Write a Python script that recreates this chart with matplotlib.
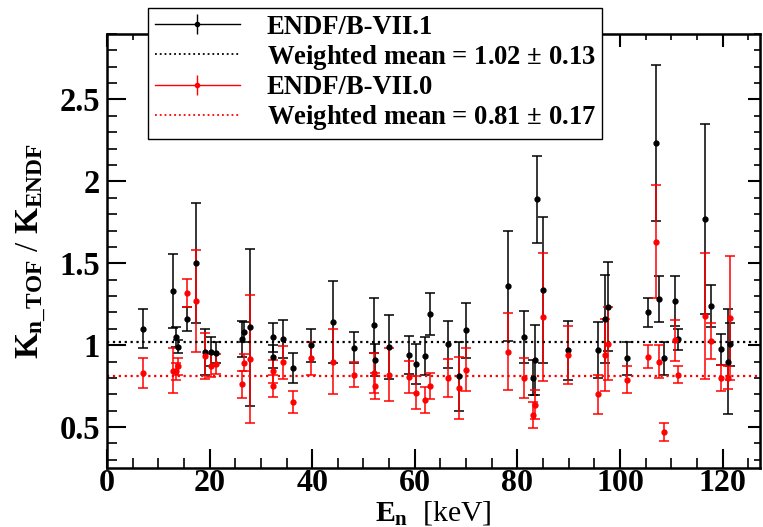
import numpy as np
import matplotlib
matplotlib.use('Agg')
import matplotlib.pyplot as plt
from matplotlib.lines import Line2D
from matplotlib.ticker import MultipleLocator

# ENDF/B-VII.1 points
e71 = [7.1, 12.9, 13.5, 13.8, 15.6, 17.4, 19.2, 20.2, 21.3, 26.3, 26.8, 27.8,
       32.4, 32.4, 34.4, 36.3, 39.7, 44.1, 48.1, 52.1, 52.3, 54.9, 58.8, 60.2,
       61.9, 63.0, 66.5, 68.7, 70.0, 78.2, 81.3, 83.0, 83.5, 83.9, 85.0, 89.9,
       95.7, 97.0, 97.6, 101.4, 105.4, 107.1, 107.7, 108.5, 110.7, 111.4,
       116.5, 117.7, 119.7, 121.0, 121.4]
k71 = [1.10, 1.33, 1.05, 0.99, 1.16, 1.50, 0.96, 0.96, 0.955, 1.04, 1.08, 1.11,
       1.047, 0.93, 1.037, 0.86, 1.00, 1.14, 0.985, 1.12, 0.91, 0.99, 0.94, 0.885,
       0.935, 1.19, 1.005, 0.81, 1.09, 1.36, 1.05, 0.80, 0.91, 1.89, 1.335, 0.97,
       0.97, 1.16, 1.235, 0.92, 1.20, 2.235, 1.28, 0.92, 1.27, 1.035,
       1.77, 1.24, 0.975, 0.90, 1.005]
s71 = [0.12, 0.225, 0.06, 0.04, 0.075, 0.365, 0.14, 0.09, 0.065, 0.11, 0.06, 0.48,
       0.09, 0.07, 0.115, 0.09, 0.10, 0.25, 0.095, 0.17, 0.10, 0.195, 0.115, 0.125,
       0.115, 0.13, 0.145, 0.21, 0.17, 0.335, 0.16, 0.107, 0.215, 0.265, 0.445, 0.18,
       0.17, 0.27, 0.27, 0.10, 0.09, 0.475, 0.14, 0.10, 0.155, 0.065,
       0.58, 0.13, 0.095, 0.32, 0.13]

# ENDF/B-VII.0 points
e70 = [7.1, 12.9, 13.5, 13.8, 15.6, 17.4, 19.2, 20.2, 21.3, 26.3, 26.8, 27.8,
       32.4, 32.4, 34.4, 36.3, 39.7, 44.1, 48.1, 52.1, 52.3, 54.9, 58.8, 60.2,
       61.9, 63.0, 66.5, 68.7, 70.0, 78.2, 81.3, 83.0, 83.5, 85.0, 89.9,
       95.7, 97.0, 97.6, 101.4, 105.4, 107.1, 107.7, 108.5, 110.7, 111.4,
       116.5, 117.7, 119.7, 121.0, 121.4]
k70 = [0.83, 0.845, 0.84, 0.87, 1.32, 1.27, 0.935, 0.875, 0.885, 0.76, 0.894, 0.916,
       0.84, 0.75, 0.896, 0.65, 0.92, 0.90, 0.82, 0.83, 0.75, 0.82, 0.805, 0.71,
       0.665, 0.75, 0.80, 0.74, 0.85, 0.96, 0.80, 0.573, 0.637, 1.17, 0.94,
       0.70, 0.94, 1.01, 0.79, 0.93, 1.63, 0.90, 0.47, 1.03, 0.82,
       1.18, 1.025, 0.80, 0.80, 1.167]
s70 = [0.09, 0.14, 0.05, 0.05, 0.085, 0.31, 0.14, 0.07, 0.06, 0.085, 0.05, 0.39,
       0.07, 0.065, 0.10, 0.067, 0.10, 0.20, 0.075, 0.12, 0.08, 0.16, 0.10, 0.10,
       0.08, 0.08, 0.115, 0.19, 0.13, 0.235, 0.12, 0.08, 0.09, 0.39, 0.175,
       0.12, 0.22, 0.22, 0.085, 0.07, 0.345, 0.10, 0.053, 0.125, 0.05,
       0.385, 0.11, 0.08, 0.07, 0.38]

mean71, err71 = 1.02, 0.13
mean70, err70 = 0.81, 0.17

plt.rcParams['font.family'] = 'Liberation Serif'
plt.rcParams['font.weight'] = 'bold'
plt.rcParams['mathtext.fontset'] = 'custom'
plt.rcParams['mathtext.rm'] = 'Liberation Serif:bold'
plt.rcParams['mathtext.it'] = 'Liberation Serif:bold'
plt.rcParams['mathtext.bf'] = 'Liberation Serif:bold'

fig = plt.figure(figsize=(7.63, 5.27), dpi=100)
ax = fig.add_axes([0.1402, 0.1120, 0.8559, 0.8235])

eb71 = ax.errorbar(e71, k71, yerr=s71, fmt='o', color='black', ms=3.5,
                   elinewidth=1.1, capsize=3.5, capthick=1.1)
eb70 = ax.errorbar(e70, k70, yerr=s70, fmt='o', color='red', ms=3.5,
                   elinewidth=1.1, capsize=3.5, capthick=1.1)
ax.axhline(mean71, color='black', ls=':', lw=1.6)
ax.axhline(mean70, color='red', ls=':', lw=1.6)

ax.set_xlim(0, 127.3)
ax.set_ylim(0.25, 2.9)
ax.xaxis.set_major_locator(MultipleLocator(20))
ax.xaxis.set_minor_locator(MultipleLocator(5))
ax.yaxis.set_major_locator(MultipleLocator(0.5))
ax.yaxis.set_minor_locator(MultipleLocator(0.1))
ax.set_yticks([0.5, 1, 1.5, 2, 2.5])
ax.set_yticklabels(['0.5', '1', '1.5', '2', '2.5'])
ax.tick_params(which='major', direction='in', length=14, width=1.5,
               labelsize=23.5, pad=5)
ax.tick_params(axis='x', which='major', pad=0.5, labelsize=23)
ax.tick_params(which='minor', direction='in', length=7, width=1.2)
for sp in ax.spines.values():
    sp.set_linewidth(1.8)

# shorter ticks on the top and right, ROOT style
top = ax.secondary_xaxis('top')
top.xaxis.set_major_locator(MultipleLocator(20))
top.xaxis.set_minor_locator(MultipleLocator(5))
top.tick_params(which='major', direction='in', length=9, width=1.5, labeltop=False)
top.tick_params(which='minor', direction='in', length=4.5, width=1.2)
right = ax.secondary_yaxis('right')
right.yaxis.set_major_locator(MultipleLocator(0.5))
right.yaxis.set_minor_locator(MultipleLocator(0.1))
right.tick_params(which='major', direction='in', length=9, width=1.5, labelright=False)
right.tick_params(which='minor', direction='in', length=4.5, width=1.2)

ax.set_xlabel(r'$E_{n}$  [keV]', fontsize=21.5)
ax.xaxis.label.set_va('bottom')
ax.xaxis.set_label_coords(0.5, -0.135)
ax.set_ylabel(r'$K_{n\_TOF}$ / $K_{ENDF}$', fontsize=24, labelpad=8)

h71 = (Line2D([], [], color='black', lw=1.0),
       Line2D([], [], color='black', marker='|', ms=14, mew=1.0, ls='none'),
       Line2D([], [], color='black', marker='o', ms=3, ls='none'))
h70 = (Line2D([], [], color='red', lw=1.0),
       Line2D([], [], color='red', marker='|', ms=14, mew=1.0, ls='none'),
       Line2D([], [], color='red', marker='o', ms=3, ls='none'))
hm71 = Line2D([], [], color='black', ls=':', lw=1.3)
hm70 = Line2D([], [], color='red', ls=':', lw=1.3)
leg = fig.legend([h71, hm71, h70, hm70],
                 ['ENDF/B-VII.1', 'Weighted mean = %.2f $\\pm$ %.2f' % (mean71, err71),
                  'ENDF/B-VII.0', 'Weighted mean = %.2f $\\pm$ %.2f' % (mean70, err70)],
                 loc='upper left', bbox_to_anchor=(0.194, 0.985),
                 fontsize=19.2, frameon=True, fancybox=False, framealpha=1,
                 edgecolor='black', handlelength=3.2, handletextpad=1.0,
                 labelspacing=0.12, borderpad=0.25, borderaxespad=0)
leg.get_frame().set_linewidth(1.0)

fig.savefig('out.png', dpi=100)
